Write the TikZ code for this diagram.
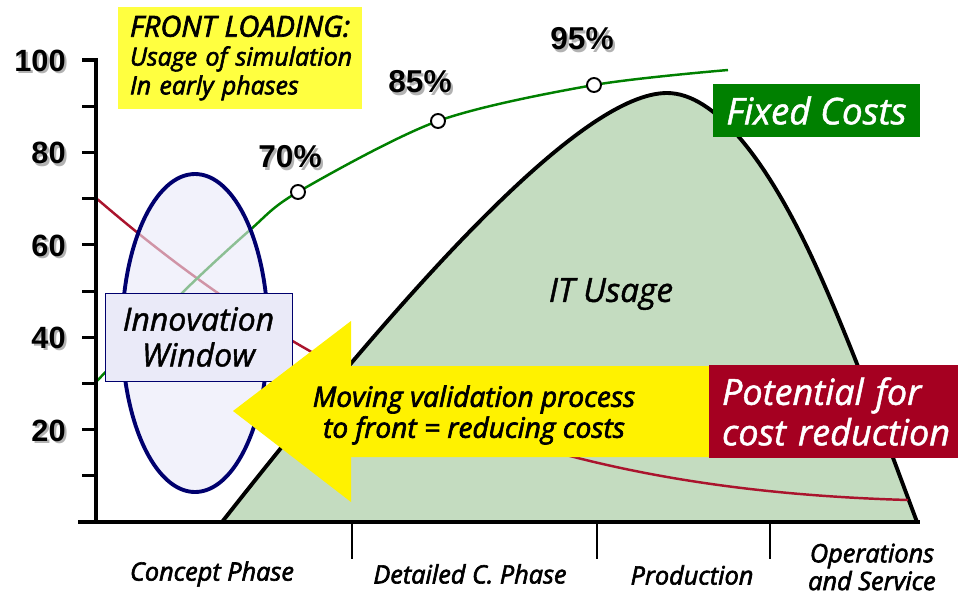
\documentclass[tikz,border=0pt]{standalone}
\usepackage{fontspec}
\setmainfont{Open Sans}[FakeBold=1.3]
\newfontfamily\semifont{Open Sans}[FakeBold=2.4]
\newfontfamily\numfont{Liberation Sans}
\definecolor{humpgreen}{RGB}{196,220,192}
\definecolor{fixgreen}{RGB}{0,128,0}
\definecolor{costred}{RGB}{165,0,33}
\definecolor{curvered}{RGB}{170,20,45}
\definecolor{navyline}{RGB}{0,0,110}
\definecolor{lavender}{RGB}{234,234,248}
\definecolor{noteyellow}{RGB}{255,255,64}
% text with a soft drop shadow
\newcommand\shadowtext[1]{\makebox[0pt][l]{\hspace{1.3pt}\raisebox{-1.3pt}{\textcolor{black!30}{#1}}}#1}
\begin{document}
\begin{tikzpicture}[x=0.02cm,y=-0.02cm,
    numlabel/.style={inner sep=0pt,font=\numfont\bfseries\fontsize{17.5}{20}\selectfont},
    pctlabel/.style={inner sep=0pt,font=\numfont\bfseries\fontsize{18}{20}\selectfont},
    phaselabel/.style={inner sep=0pt,align=center,font=\semifont\itshape\fontsize{14.4}{15.8}\selectfont},
    axisline/.style={line width=2.2pt},
    tickline/.style={line width=1.7pt}]
        \useasboundingbox (0,0) rectangle (958,596);

        % IT usage hump
        \draw[line width=2.2pt,fill=humpgreen] (222,522) .. controls (420,270) and (585,93) .. (667,93)
            .. controls (715,93) and (765,160) .. (807,247)
            .. controls (845,326) and (890,450) .. (917,522) -- cycle;
        \node[font=\itshape\fontsize{19}{22}\selectfont] (itusage) at (611,294) {IT Usage};

        % cost curves
        \draw[curvered,line width=1.4pt] (96,198) .. controls (330,400) and (560,490) .. (908,500);
        \draw[fixgreen,line width=1.4pt] plot[smooth] coordinates {
            (96,382) (182,293) (250,230) (298,192) (438,121) (594,85) (728,70)};

        % fixed cost marks
        \foreach \x/\y/\pct/\lx/\ly in {298/192/70/290/158, 438/121/85/420/83, 594/85/95/582/40} {
                \draw[fill=white,line width=1.1pt] (\x,\y) circle (7);
                \node[pctlabel] (pct\pct) at (\lx,\ly) {\shadowtext{\pct\%}};
        }

        % innovation window
        \draw[navyline,line width=2.2pt,fill=lavender,fill opacity=0.6] (195,333) ellipse [x radius=73,y radius=159];
        \node[draw=navyline,fill=lavender,minimum width=3.74cm,minimum height=1.76cm,align=center,
            font=\itshape\fontsize{18.2}{20.4}\selectfont] (innov) at (198.5,337) {Innovation\\Window};

        % axes
        \draw[axisline] (82,60) -- (96,60) -- (96,522);
        \draw[axisline] (78,522) -- (920,522);
        \foreach \v in {10,20,...,90}
                \draw[tickline] (82,{522-4.62*\v}) -- (96,{522-4.62*\v});
        \foreach \v in {20,40,...,100}
                \node[numlabel,anchor=east] (val\v) at (66,{524-4.62*\v}) {\shadowtext{\v}};
        \foreach \x in {352,597,770}
                \draw[tickline] (\x,522) -- (\x,559);

        % phases
        \node[phaselabel] (concept) at (212,574) {Concept Phase};
        \node[phaselabel] (detailed) at (470,574) {Detailed C. Phase};
        \node[phaselabel] (production) at (692,575) {Production};
        \node[phaselabel] (operations) at (872,567) {Operations\\and Service};

        % moving arrow
        \fill[yellow] (233,411) -- (351,321) -- (351,366) -- (709,366)
            -- (709,457) -- (351,457) -- (351,502) -- cycle;
        \node[align=center,font=\semifont\itshape\fontsize{16}{17.6}\selectfont] (moving) at (474,415)
            {Moving validation process\\to front = reducing costs};

        % boxes
        \node[fill=noteyellow,minimum width=4.88cm,minimum height=2.04cm,text width=4.4cm,align=left,
            font=\semifont\itshape\fontsize{14.2}{16.4}\selectfont] (frontload) at (240,58)
            {\mbox{\fontsize{16.5}{16.4}\selectfont FRONT LOADING:}\\\mbox{Usage of simulation}\\\mbox{In early phases}};
        \node[fill=fixgreen,text=white,minimum width=4.14cm,minimum height=1.06cm,
            font=\itshape\fontsize{21}{22}\selectfont] (fixed) at (816.5,110.5) {Fixed Costs};
        \node[fill=costred,text=white,minimum width=4.98cm,minimum height=1.86cm,text width=4.46cm,align=left,
            font=\itshape\fontsize{20.5}{23}\selectfont] (potential) at (833.5,411.5)
            {\mbox{Potential for}\\\mbox{cost reduction}};
\end{tikzpicture}
\end{document}
